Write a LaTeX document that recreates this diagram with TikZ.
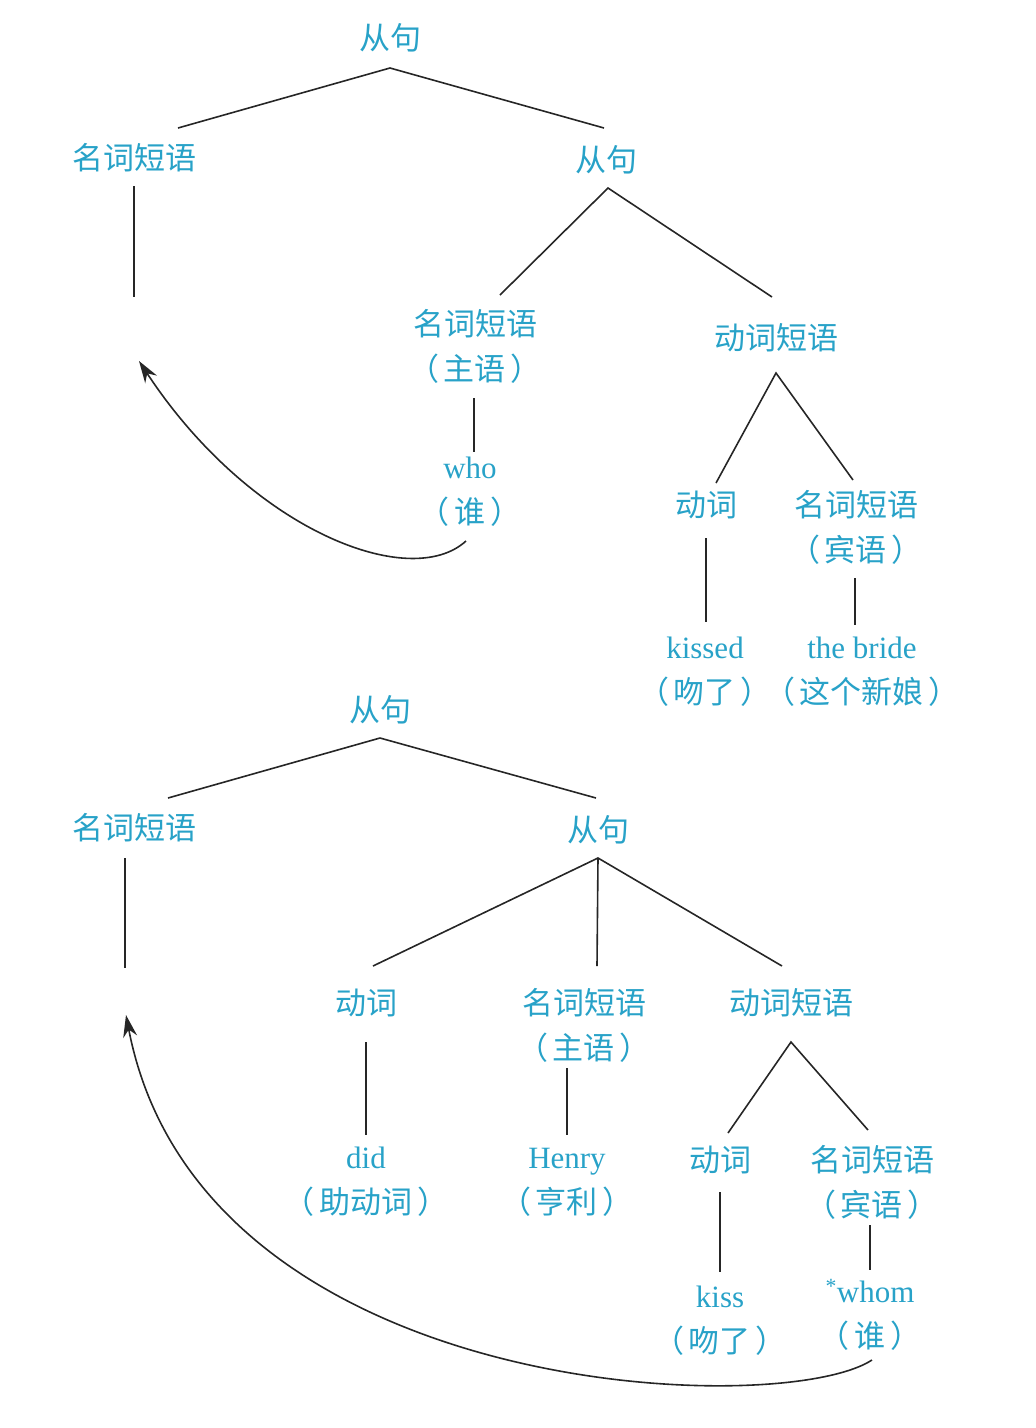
\documentclass[tikz,border=0pt]{standalone}
\usepackage{fontspec}
\setmainfont{Liberation Serif}
\newfontfamily\cjk{Noto Sans CJK SC}
\usetikzlibrary{arrows.meta}
\definecolor{wordblue}{RGB}{40,162,200}
\newcommand{\gloss}[1]{\cjk （\hspace{5pt}#1\hspace{5pt}）}
\tikzset{
	word/.style={text=wordblue, font=\fontsize{31}{45}\selectfont, align=center, inner sep=0pt},
	branch/.style={black!85, line width=1.6pt},
	move/.style={black!85, line width=1.6pt, -{Stealth[length=22pt,width=14pt]}}
}

\begin{document}
\begin{tikzpicture}[x=1pt,y=-1pt]
	\useasboundingbox (0,0) rectangle (1036,1428);
	% upper tree
	\node[word] (S1) at (390,38) {\cjk 从句};
	\node[word] (NP1) at (134,158) {\cjk 名词短语};
	\node[word] (S2) at (606,160) {\cjk 从句};
	\node[word] (NP2) at (475,346) {\cjk 名词短语\\\gloss{主语}};
	\node[word] (VP1) at (776,338) {\cjk 动词短语};
	\node[word] (WHO) at (470,492) {who\\\gloss{谁}};
	\node[word] (V1) at (706,505) {\cjk 动词};
	\node[word] (NP3) at (856,527) {\cjk 名词短语\\\gloss{宾语}};
	\node[word] (KISSED) at (705,672) {kissed\\\gloss{吻了}};
	\node[word] (BRIDE) at (862,672) {the bride\\\gloss{这个新娘}};

	\coordinate (S1b) at (390,68);
	\coordinate (NP1t) at (178,128);
	\coordinate (S2t) at (604,128);
	\coordinate (NP1b) at (134,186);
	\coordinate (T1) at (134,297);
	\coordinate (S2b) at (608,188);
	\coordinate (NP2t) at (500,295);
	\coordinate (VP1t) at (772,297);
	\coordinate (NP2b) at (474,398);
	\coordinate (WHOt) at (474,452);
	\coordinate (VP1b) at (776,373);
	\coordinate (V1t) at (716,483);
	\coordinate (NP3t) at (853,480);
	\coordinate (V1b) at (706,538);
	\coordinate (KISSEDt) at (706,622);
	\coordinate (NP3b) at (855,578);
	\coordinate (BRIDEt) at (855,625);
	\coordinate (WHOb) at (466,541);
	\coordinate (G1) at (139,361);

	\draw[branch] (NP1t) -- (S1b) -- (S2t);
	\draw[branch] (NP1b) -- (T1);
	\draw[branch] (NP2t) -- (S2b) -- (VP1t);
	\draw[branch] (NP2b) -- (WHOt);
	\draw[branch] (V1t) -- (VP1b) -- (NP3t);
	\draw[branch] (V1b) -- (KISSEDt);
	\draw[branch] (NP3b) -- (BRIDEt);
	\draw[move] (WHOb) .. controls (410,592) and (250,530) .. (G1);

	% lower tree
	\node[word] (S3) at (380,710) {\cjk 从句};
	\node[word] (NP4) at (134,828) {\cjk 名词短语};
	\node[word] (S4) at (598,830) {\cjk 从句};
	\node[word] (V2) at (366,1003) {\cjk 动词};
	\node[word] (NP5) at (584,1025) {\cjk 名词短语\\\gloss{主语}};
	\node[word] (VP2) at (791,1003) {\cjk 动词短语};
	\node[word] (DID) at (366,1182) {did\\\gloss{助动词}};
	\node[word] (HENRY) at (567,1182) {Henry\\\gloss{亨利}};
	\node[word] (V3) at (720,1160) {\cjk 动词};
	\node[word] (NP6) at (872,1182) {\cjk 名词短语\\\gloss{宾语}};
	\node[word] (KISS) at (720,1321) {kiss\\\gloss{吻了}};
	\node[word] (WHOM) at (870,1315) {\textsuperscript{*}whom\\\gloss{谁}};

	\coordinate (S3b) at (380,738);
	\coordinate (NP4t) at (168,798);
	\coordinate (S4t) at (596,798);
	\coordinate (NP4b) at (125,858);
	\coordinate (T2) at (125,968);
	\coordinate (S4b) at (598,858);
	\coordinate (V2t) at (373,966);
	\coordinate (NP5t) at (597,966);
	\coordinate (VP2t) at (782,966);
	\coordinate (V2b) at (366,1042);
	\coordinate (DIDt) at (366,1135);
	\coordinate (NP5b) at (567,1068);
	\coordinate (HENRYt) at (567,1135);
	\coordinate (VP2b) at (791,1042);
	\coordinate (V3t) at (728,1133);
	\coordinate (NP6t) at (868,1130);
	\coordinate (V3b) at (720,1192);
	\coordinate (KISSt) at (720,1272);
	\coordinate (NP6b) at (870,1225);
	\coordinate (WHOMt) at (870,1270);
	\coordinate (WHOMb) at (872,1360);
	\coordinate (G2) at (126,1015);

	\draw[branch] (NP4t) -- (S3b) -- (S4t);
	\draw[branch] (NP4b) -- (T2);
	\draw[branch] (V2t) -- (S4b) -- (VP2t);
	\draw[branch] (S4b) -- (NP5t);
	\draw[branch] (V2b) -- (DIDt);
	\draw[branch] (NP5b) -- (HENRYt);
	\draw[branch] (V3t) -- (VP2b) -- (NP6t);
	\draw[branch] (V3b) -- (KISSt);
	\draw[branch] (NP6b) -- (WHOMt);
	\draw[move] (WHOMb) .. controls (780,1420) and (200,1400) .. (G2);
\end{tikzpicture}
\end{document}
